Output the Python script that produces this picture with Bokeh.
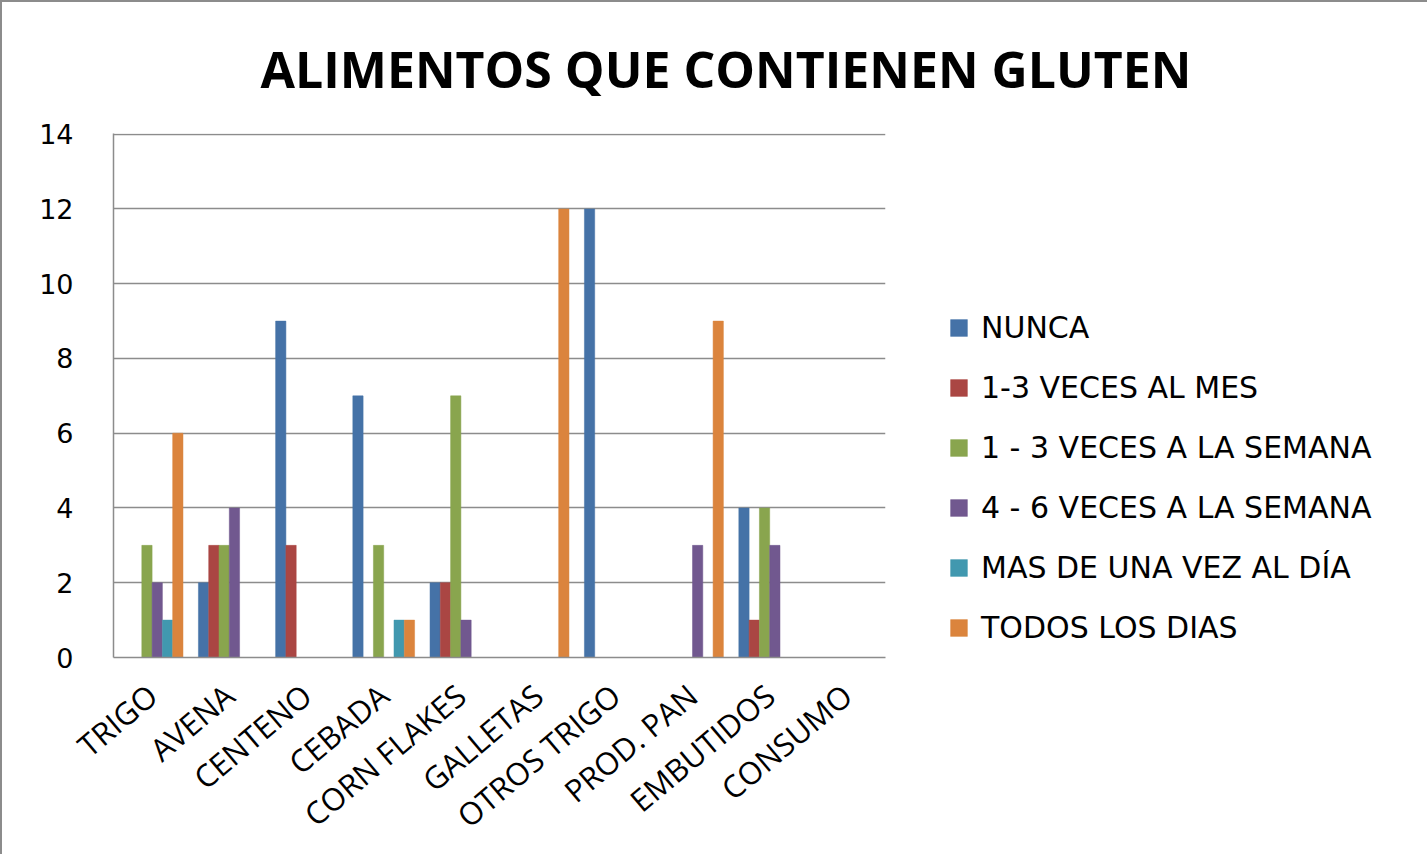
from bokeh.plotting import figure
from bokeh.models import ColumnDataSource, FactorRange, Range1d, Legend, LegendItem, FixedTicker
from bokeh.transform import dodge
from bokeh.embed import file_html
from bokeh.resources import INLINE

categories = ["TRIGO", "AVENA", "CENTENO", "CEBADA", "CORN FLAKES", "GALLETAS",
              "OTROS TRIGO", "PROD. PAN", "EMBUTIDOS", "CONSUMO"]
series_names = ["NUNCA", "1-3 VECES AL MES", "1 - 3 VECES A LA SEMANA",
                "4 - 6 VECES A LA SEMANA", "MAS DE UNA VEZ AL DÍA", "TODOS LOS DIAS"]
nunca        = [0, 2, 9, 7, 2, 0, 12, 0, 4, 0]
veces_mes    = [0, 3, 3, 0, 2, 0, 0, 0, 1, 0]
veces_13_sem = [3, 3, 0, 3, 7, 0, 0, 0, 4, 0]
veces_46_sem = [2, 4, 0, 0, 1, 0, 0, 3, 3, 0]
mas_una_dia  = [1, 0, 0, 1, 0, 0, 0, 0, 0, 0]
todos_dias   = [6, 0, 0, 1, 0, 12, 0, 9, 0, 0]
y_ticks = [0, 2, 4, 6, 8, 10, 12, 14]

colors = ["#4572A7", "#AA4643", "#89A54E", "#71588F", "#4198AF", "#DB843D"]
cols = ["s0", "s1", "s2", "s3", "s4", "s5"]
data = dict(cat=categories, s0=nunca, s1=veces_mes, s2=veces_13_sem,
            s3=veces_46_sem, s4=mas_una_dia, s5=todos_dias)
src = ColumnDataSource(data)

p = figure(frame_width=772, frame_height=524, output_backend="svg", toolbar_location=None,
           x_range=FactorRange(*categories, range_padding=0),
           y_range=Range1d(0, 14.02),
           min_border_left=111, min_border_right=10, min_border_top=131, min_border_bottom=183)
p.outline_line_color = None
p.background_fill_color = "white"
p.border_fill_color = "white"

p.title.text = "ALIMENTOS QUE CONTIENEN GLUTEN"
p.title.align = "left"
p.title.offset = 147
p.title.standoff = 61
p.title.text_font = "Open Sans"
p.title.text_font_style = "bold"
p.title.text_font_size = "50px"
p.title.text_color = "black"

bw = 2.0 / 15.0
items = []
for i, (c, col) in enumerate(zip(cols, colors)):
    off = -1.0 / 3.0 + i * bw
    r = p.vbar(x=dodge("cat", off, range=p.x_range), top=c, bottom=0, width=bw,
               source=src, fill_color=col, line_color=col, line_width=0.5)
    items.append(LegendItem(label=series_names[i], renderers=[r]))

p.xgrid.grid_line_color = None
p.ygrid.grid_line_color = "#8C8C8C"
p.ygrid.grid_line_width = 1.5
p.yaxis.ticker = FixedTicker(ticks=y_ticks)

for ax in (p.xaxis[0], p.yaxis[0]):
    ax.axis_line_color = "#8C8C8C"
    ax.axis_line_width = 1.5
    ax.major_tick_line_color = None
    ax.minor_tick_line_color = None
    ax.major_label_text_color = "black"

p.yaxis.major_label_text_font = "DejaVu Sans"
p.yaxis.major_label_text_font_size = "27px"
p.yaxis.major_label_standoff = 34
p.xaxis.major_label_text_font = "Open Sans"
p.xaxis.major_label_text_font_size = "31px"
p.xaxis.major_label_orientation = 0.7
p.xaxis.major_label_standoff = 27

legend = Legend(items=items, location=(63, 10), orientation="vertical",
                label_text_font="DejaVu Sans", label_text_font_size="30px",
                label_text_color="black",
                glyph_width=21, glyph_height=21, label_height=40, spacing=20,
                padding=0, margin=0, border_line_color=None,
                background_fill_alpha=0, label_standoff=12)
p.add_layout(legend, "right")

p.styles = {"border-left": "2px solid #8C8C8C", "border-top": "2px solid #8C8C8C"}

open("out.html", "w").write(file_html(p, INLINE))
